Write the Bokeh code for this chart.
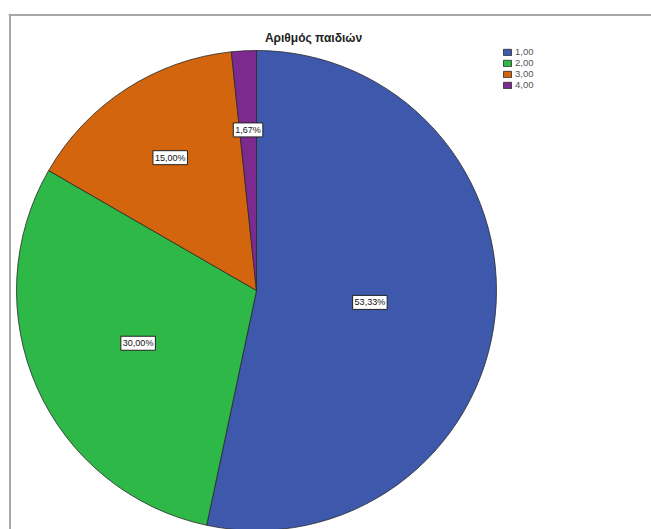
import math
from bokeh.plotting import figure
from bokeh.models import ColumnDataSource, Range1d, Label, Legend, LegendItem, Span
from bokeh.embed import file_html
from bokeh.resources import INLINE

# ---- data ----
title = "Αριθμός παιδιών"
categories = ["1,00", "2,00", "3,00", "4,00"]
percents = [53.33, 30.00, 15.00, 1.67]
colors = ["#3E58AC", "#2EB848", "#D2650E", "#7D2A8E"]

# ---- layout params (page pixel coordinates mapped to data) ----
W, H = 643, 516
LEFT, TOP = 8, 13
cx, cy, R = 256, 529 - 290, 240
label_r_frac = [0.475, 0.54, 0.66, 0.67]

total = sum(percents)
starts, ends, lx, ly, texts = [], [], [], [], []
cum = 0.0
for i, v in enumerate(percents):
    f0 = cum / total
    cum += v
    f1 = cum / total
    starts.append(math.pi / 2 - 2 * math.pi * f1)
    ends.append(math.pi / 2 - 2 * math.pi * f0)
    fm = (f0 + f1) / 2
    r = R * label_r_frac[i]
    lx.append(cx + r * math.sin(2 * math.pi * fm))
    ly.append(cy + r * math.cos(2 * math.pi * fm))
    texts.append(f"{v:.2f}".replace(".", ",") + "%")

src = ColumnDataSource(dict(cat=categories, val=percents, color=colors,
                            start=starts, end=ends, x=[cx] * 4, y=[cy] * 4))

p = figure(width=W, height=H, output_backend="svg", toolbar_location=None,
           x_range=Range1d(LEFT, LEFT + W), y_range=Range1d(0, H),
           min_border=0, margin=(TOP, 0, 0, LEFT))
p.axis.visible = False
p.grid.visible = False
p.outline_line_color = None
p.background_fill_color = "white"

w = p.wedge(x="x", y="y", radius=R, start_angle="start", end_angle="end",
            direction="anticlock", fill_color="color", line_color="#2a2a2a",
            line_width=0.8, source=src)

for x_, y_, t_ in zip(lx, ly, texts):
    p.add_layout(Label(x=x_, y=y_, text=t_, text_align="center",
                       text_baseline="middle", text_font="Liberation Sans",
                       text_font_size="9px", text_color="#111111",
                       background_fill_color="white", border_line_color="#222222",
                       border_line_width=1, padding=2))

p.add_layout(Label(x=313, y=529 - 37, text=title, text_align="center",
                   text_baseline="middle", text_font="Liberation Sans",
                   text_font_style="bold", text_font_size="12px",
                   text_color="#222222"))

items = [LegendItem(label=c, renderers=[w], index=i) for i, c in enumerate(categories)]
leg = Legend(items=items, location=(494, 439), glyph_width=10, glyph_height=8,
             label_text_font="Liberation Sans", label_text_font_size="9.5px",
             label_text_color="#555555", label_height=8, label_standoff=3,
             spacing=0, padding=0, margin=0, border_line_color=None,
             background_fill_alpha=0)
p.add_layout(leg)

# frame border (top and left edges)
p.add_layout(Span(location=529 - 14.5, dimension="width", line_color="#a8a8a8", line_width=2))
p.add_layout(Span(location=9.5, dimension="height", line_color="#a8a8a8", line_width=2))

open("out.html", "w").write(file_html(p, INLINE))
